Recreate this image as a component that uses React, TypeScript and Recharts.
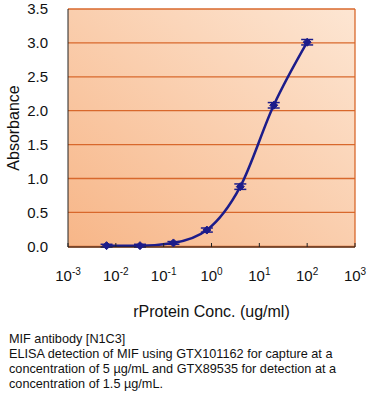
import React from 'react';
import { LineChart, Line, XAxis, YAxis, CartesianGrid, ErrorBar, ReferenceLine, Label } from 'recharts';

const concentrations = [0.0064, 0.032, 0.16, 0.8, 4, 20, 100];
const absorbance = [0.01, 0.01, 0.05, 0.24, 0.88, 2.08, 3.01];
const errors = [0.02, 0.02, 0.02, 0.03, 0.04, 0.04, 0.04];
const xTicks = [0.001, 0.01, 0.1, 1, 10, 100, 1000];
const yTicks = [0, 0.5, 1, 1.5, 2, 2.5, 3, 3.5];

const captionLines = [
  'MIF antibody [N1C3]',
  'ELISA detection of MIF using GTX101162 for capture at a',
  'concentration of 5 µg/mL and GTX89535 for detection at a',
  'concentration of 1.5 µg/mL.',
];

const data = concentrations.map((c, i) => ({ conc: c, abs: absorbance[i], err: errors[i] }));

const FONT = '"Liberation Sans", Arial, sans-serif';
const NAVY = '#1c1c8a';
const GRID = '#d8682c';

const LogTick = (props: any) => {
  const { x, y, payload } = props;
  const exp = Math.round(Math.log10(payload.value));
  return (
    <g>
      <line x1={x} y1={y} x2={x} y2={y - 4} stroke="#222" strokeWidth={1} />
      <text x={x} y={y + 34} textAnchor="middle" fontSize={15} fill="#111" fontFamily={FONT}>
        10<tspan dy={-6} fontSize={10}>{exp}</tspan>
      </text>
    </g>
  );
};

const Diamond = (props: any) => {
  const { cx, cy } = props;
  if (cx == null || cy == null) return null;
  const r = 4;
  return <path d={`M${cx},${cy - r}L${cx + r},${cy}L${cx},${cy + r}L${cx - r},${cy}Z`} fill={NAVY} stroke={NAVY} />;
};

export default function App() {
  return (
    <div style={{ position: 'absolute', left: 0, top: 0, width: 373, height: 400, background: '#fff' }}>
      <LineChart width={373} height={325} data={data} margin={{ top: 9, right: 18, left: 0, bottom: 0 }}>
        <defs>
          <linearGradient id="bg" x1="0" y1="1" x2="1" y2="0">
            <stop offset="0%" stopColor="#f7b688" />
            <stop offset="100%" stopColor="#fde6d3" />
          </linearGradient>
        </defs>
        <CartesianGrid vertical={false} stroke={GRID} strokeWidth={1.3} fill="url(#bg)" fillOpacity={1} />
        <XAxis
          dataKey="conc"
          type="number"
          scale="log"
          domain={[0.001, 1000]}
          ticks={xTicks}
          allowDataOverflow
          tick={<LogTick />}
          tickLine={false}
          tickSize={0}
          tickMargin={0}
          height={78}
          stroke="#222"
        >
          <Label value="rProtein Conc. (ug/ml)" position="insideBottom" offset={8} fontSize={16} fill="#111" fontFamily={FONT} />
        </XAxis>
        <YAxis
          type="number"
          domain={[0, 3.5]}
          ticks={yTicks}
          tickFormatter={(v: number) => v.toFixed(1)}
          tickLine={false}
          width={68}
          tickMargin={14}
          stroke="#222"
          tick={{ fontSize: 15, fill: '#111', fontFamily: FONT }}
        >
          <Label value="Absorbance" angle={-90} position="insideLeft" offset={13} fontSize={16} fill="#111" fontFamily={FONT} style={{ textAnchor: 'middle' }} />
        </YAxis>
        <ReferenceLine x={1000} stroke={GRID} strokeWidth={1.3} />
        <Line
          type="monotone"
          dataKey="abs"
          stroke={NAVY}
          strokeWidth={2.5}
          dot={<Diamond />}
          isAnimationActive={false}
        >
          <ErrorBar dataKey="err" direction="y" width={6} stroke={NAVY} strokeWidth={1.5} />
        </Line>
      </LineChart>
      <div style={{ position: 'absolute', left: 9, top: 332, fontFamily: FONT, fontSize: 12.7, lineHeight: '15px', color: '#111', whiteSpace: 'nowrap' }}>
        {captionLines.map((l, i) => (
          <div key={i}>{l}</div>
        ))}
      </div>
    </div>
  );
}
